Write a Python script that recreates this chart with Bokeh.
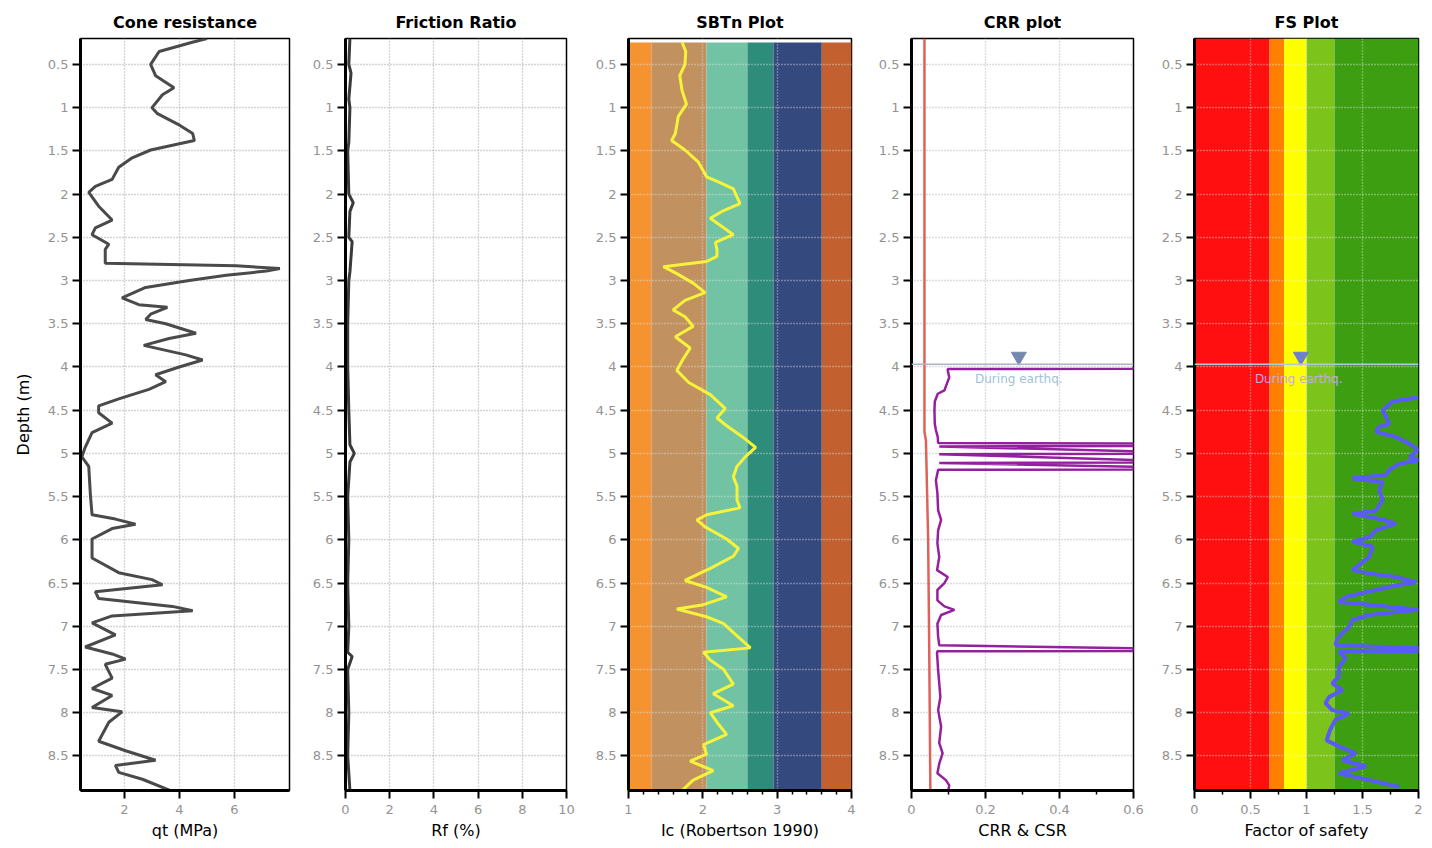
from bokeh.plotting import figure
from bokeh.layouts import row
from bokeh.models import Range1d, FixedTicker, NumeralTickFormatter, Label, Span
from bokeh.embed import file_html
from bokeh.resources import INLINE

# ---------------- data ----------------
qt_depth = [0.20,0.24,0.35,0.50,0.63,0.77,0.85,1.00,1.07,1.19,1.30,1.38,1.49,1.58,1.69,1.83,1.91,1.98,2.14,2.30,
            2.39,2.47,2.58,2.64,2.80,2.83,2.86,2.89,2.94,3.00,3.08,3.20,3.28,3.31,3.39,3.45,3.50,3.61,3.67,3.75,
            3.86,3.92,4.00,4.09,4.17,4.26,4.37,4.45,4.53,4.65,4.76,4.93,5.04,5.15,5.48,5.71,5.76,5.82,5.87,5.99,
            6.21,6.38,6.46,6.52,6.60,6.68,6.77,6.82,6.88,6.96,7.10,7.24,7.32,7.38,7.44,7.60,7.72,7.80,7.94,7.99,
            8.11,8.33,8.44,8.55,8.61,8.69,8.77,8.91]
qt_mpa = [5.0,4.5,3.26,2.95,3.13,3.8,3.38,3.0,3.2,3.93,4.48,4.54,2.95,2.28,1.79,1.55,0.94,0.7,1.06,1.55,
          0.94,0.82,1.43,1.3,1.3,6.06,7.65,7.16,5.7,4.35,2.77,1.91,2.52,3.56,2.95,2.77,3.5,4.6,3.62,2.7,
          4.23,4.84,3.99,3.13,3.5,2.89,1.79,1.06,1.06,1.55,0.82,0.57,0.45,0.7,0.76,0.82,1.67,2.4,1.55,0.82,
          0.82,1.79,3.0,3.38,0.94,1.06,3.74,4.48,1.55,0.82,1.67,0.57,1.55,2.04,1.3,1.55,0.82,1.55,0.82,1.91,
          1.43,1.06,2.04,3.13,1.67,1.79,2.65,3.74]

rf_depth = [0.2,0.5,0.6,0.9,1.0,1.4,1.5,2.0,2.1,2.2,2.5,2.55,2.9,3.0,3.5,4.0,4.5,4.9,5.0,5.1,
            5.5,6.0,6.5,7.0,7.3,7.35,7.5,8.0,8.5,8.9]
rf_pct = [0.2,0.15,0.25,0.15,0.2,0.15,0.1,0.15,0.35,0.2,0.15,0.3,0.2,0.15,0.1,0.1,0.15,0.2,0.4,0.2,
          0.1,0.15,0.1,0.15,0.1,0.3,0.1,0.15,0.1,0.2]

ic_depth = [0.24,0.35,0.50,0.63,0.80,0.96,1.10,1.30,1.38,1.49,1.63,1.80,1.86,1.94,2.11,2.19,2.28,2.39,2.47,2.56,
            2.64,2.72,2.78,2.84,2.92,3.03,3.14,3.23,3.34,3.42,3.53,3.65,3.78,3.90,4.04,4.18,4.32,4.48,4.59,4.68,
            4.82,4.93,5.04,5.15,5.27,5.38,5.54,5.63,5.71,5.77,5.85,5.99,6.10,6.19,6.33,6.47,6.55,6.66,6.75,6.80,
            6.89,6.97,7.11,7.25,7.30,7.39,7.50,7.67,7.78,7.92,8.00,8.11,8.25,8.37,8.48,8.56,8.67,8.78,8.90]
ic_val = [1.72,1.77,1.76,1.69,1.72,1.78,1.67,1.63,1.58,1.76,1.94,2.05,2.21,2.41,2.50,2.28,2.10,2.28,2.41,2.17,
          2.19,2.19,2.05,1.47,1.65,1.87,2.03,1.76,1.60,1.76,1.87,1.63,1.83,1.74,1.65,1.81,2.10,2.30,2.19,2.32,
          2.55,2.71,2.57,2.46,2.41,2.46,2.46,2.50,2.05,1.92,2.03,2.32,2.48,2.41,2.10,1.76,2.05,2.32,2.01,1.65,
          2.05,2.28,2.46,2.64,2.01,2.10,2.28,2.41,2.14,2.41,2.10,2.19,2.32,2.01,2.05,1.83,2.14,1.87,1.72]

sbt_edges = [1.0, 1.31, 2.05, 2.6, 2.95, 3.6, 4.0]
sbt_colors = ["#F59331", "#C1915F", "#72C3A4", "#2E8C7A", "#34497E", "#C2612F"]

csr_depth = [0.2, 4.0, 4.75, 4.85, 6.0, 7.3, 8.9]
csr_val = [0.035, 0.035, 0.035, 0.039, 0.045, 0.048, 0.051]

crr_depth = [4.00,4.02,4.025,4.04,4.12,4.19,4.27,4.31,4.40,4.50,4.66,4.73,4.81,4.88,
             4.885,4.915,4.92,4.975,5.005,5.01,5.075,5.105,5.11,5.155,5.185,5.19,
             5.31,5.46,5.66,5.77,5.89,6.04,6.20,6.35,6.43,6.50,6.58,6.70,6.77,6.81,6.87,6.97,7.12,7.22,
             7.255,7.285,7.29,7.31,7.51,7.66,7.82,7.97,8.16,8.35,8.47,8.59,8.70,8.78,8.84,8.89]
crr_val = [0.6,0.6,0.098,0.098,0.102,0.096,0.089,0.071,0.063,0.062,0.063,0.066,0.071,0.072,
           0.6,0.6,0.075,0.6,0.6,0.075,0.6,0.6,0.075,0.6,0.6,0.072,
           0.066,0.07,0.072,0.08,0.072,0.07,0.075,0.069,0.098,0.089,0.07,0.07,0.089,0.116,0.08,0.07,0.072,0.075,
           0.6,0.6,0.07,0.069,0.072,0.075,0.078,0.072,0.08,0.075,0.084,0.075,0.07,0.093,0.102,0.1]

fs_depth = [4.35,4.40,4.50,4.66,4.69,4.75,4.81,4.89,4.96,5.04,5.08,5.12,5.19,5.25,5.29,5.33,5.43,5.54,5.66,5.70,
            5.75,5.81,5.89,5.97,6.02,6.08,6.20,6.29,6.35,6.39,6.43,6.49,6.52,6.58,6.66,6.72,6.76,6.81,6.87,6.93,
            7.01,7.08,7.16,7.22,7.255,7.285,7.29,7.37,7.47,7.58,7.66,7.74,7.82,7.89,7.97,8.01,8.08,8.20,8.32,8.39,
            8.47,8.55,8.62,8.70,8.78,8.86]
fs_val = [2.0,1.77,1.68,1.74,1.65,1.62,1.80,1.92,2.0,1.92,2.0,1.83,1.74,1.71,1.41,1.68,1.65,1.68,1.62,1.41,
          1.62,1.80,1.62,1.56,1.41,1.59,1.56,1.47,1.41,1.56,1.80,1.98,1.83,1.62,1.35,1.29,1.62,2.0,1.56,1.41,
          1.38,1.32,1.27,1.26,2.0,2.0,1.29,1.35,1.29,1.29,1.23,1.32,1.2,1.17,1.23,1.38,1.26,1.21,1.18,1.29,
          1.44,1.32,1.53,1.29,1.56,1.83]

fs_edges = [0.0, 0.67, 0.8, 1.0, 1.25, 2.0]
fs_colors = ["#FF0F0F", "#FF8000", "#FFFF00", "#7CC41C", "#3E9E12"]

gwt_depth = 3.97
marker_depth = 3.88
label_depth = 4.14

depth_ticks = [0.5, 1, 1.5, 2, 2.5, 3, 3.5, 4, 4.5, 5, 5.5, 6, 6.5, 7, 7.5, 8, 8.5]

FONT = "DejaVu Sans"
Y_TOP, Y_BOT = 0.2, 8.9


def make_panel(title, xr, xticks, xminor, xlabel, left, right, fw, ylabel=None,
               grid_color="#a8a8a8", grid_alpha=1.0):
    p = figure(frame_width=fw, frame_height=752,
               x_range=Range1d(*xr), y_range=Range1d(Y_BOT, Y_TOP),
               output_backend="svg", toolbar_location=None,
               min_border_left=left, min_border_right=right,
               min_border_top=38, min_border_bottom=50, title=title)
    p.title.align = "center"
    p.title.text_font = FONT
    p.title.text_font_size = "16px"
    p.title.text_font_style = "bold"
    p.title.text_color = "black"
    p.title.standoff = 13
    p.outline_line_color = "black"
    p.outline_line_width = 1.5
    p.outline_line_alpha = 1.0
    p.background_fill_color = "white"
    p.border_fill_color = "white"

    p.xaxis.ticker = FixedTicker(ticks=xticks, minor_ticks=xminor)
    p.yaxis.ticker = FixedTicker(ticks=depth_ticks)
    p.yaxis.formatter = NumeralTickFormatter(format="0.[0]")
    p.xaxis.formatter = NumeralTickFormatter(format="0.[0]")
    for ax in (p.xaxis, p.yaxis):
        ax.axis_line_width = 3
        ax.axis_line_color = "black"
        ax.major_tick_line_color = "black"
        ax.major_tick_line_width = 2
        ax.major_tick_out = 8
        ax.major_tick_in = 0
        ax.minor_tick_line_color = "black"
        ax.minor_tick_line_width = 1.5
        ax.minor_tick_out = 4
        ax.minor_tick_in = 0
        ax.major_label_text_font = FONT
        ax.major_label_text_font_size = "13px"
        ax.major_label_text_color = "#939393"
        ax.axis_label_text_font = FONT
        ax.axis_label_text_font_size = "16px"
        ax.axis_label_text_font_style = "normal"
        ax.axis_label_text_color = "black"
    p.xaxis.axis_label = xlabel
    p.xaxis.axis_label_standoff = 4
    p.xaxis.major_label_standoff = 6
    p.yaxis.major_label_standoff = 4
    p.yaxis.minor_tick_line_color = None
    if ylabel:
        p.yaxis.axis_label = ylabel
        p.yaxis.axis_label_standoff = 12
    for g in (p.xgrid, p.ygrid):
        g.grid_line_color = grid_color
        g.grid_line_alpha = grid_alpha
        g.grid_line_dash = "1 2"
        g.grid_line_width = 1.3
    return p


# Panel 1: Cone resistance
p1 = make_panel("Cone resistance", (0.4, 8.0), [2, 4, 6], [], "qt (MPa)", 80, 11, 209,
                ylabel="Depth (m)")
p1.line(qt_mpa, qt_depth, line_color="#4a4a4a", line_width=3)

# Panel 2: Friction ratio
p2 = make_panel("Friction Ratio", (0, 10), [0, 2, 4, 6, 8, 10], [], "Rf (%)", 45, 19, 221)
p2.line(rf_pct, rf_depth, line_color="#3a3a3a", line_width=3)

# Panel 3: SBTn
p3 = make_panel("SBTn Plot", (1, 4), [1, 2, 3, 4],
                [1.2, 1.4, 1.6, 1.8, 2.2, 2.4, 2.6, 2.8, 3.2, 3.4, 3.6, 3.8],
                "Ic (Robertson 1990)", 43, 19, 223, grid_color="#e6e6e6", grid_alpha=0.75)
p3.quad(left=sbt_edges[:-1], right=sbt_edges[1:], top=[0.245] * len(sbt_colors),
        bottom=[Y_BOT] * len(sbt_colors), fill_color=sbt_colors, line_color=None, level="image")
p3.line(ic_val, ic_depth, line_color="#F6F33A", line_width=3)

# Panel 4: CRR
p4 = make_panel("CRR plot", (0, 0.6), [0, 0.2, 0.4, 0.6], [0.1, 0.3, 0.5], "CRR & CSR",
                41, 19, 222, grid_color="#b8b8b8")
p4.add_layout(Span(location=gwt_depth, dimension="width", line_color="#a9b4c6", line_width=1.5))
p4.line(csr_val, csr_depth, line_color="#E0605A", line_width=2.5)
p4.line(crr_val, crr_depth, line_color="#9420A0", line_width=2.5)
p4.scatter([0.29], [marker_depth], marker="inverted_triangle", size=15,
           fill_color="#7488AE", line_color="#7488AE")
p4.add_layout(Label(x=0.29, y=label_depth, text="During earthq.", text_align="center",
                    text_baseline="middle", text_font=FONT, text_font_size="12px",
                    text_color="#9FC2DA"))

# Panel 5: FS
p5 = make_panel("FS Plot", (0, 2), [0, 0.5, 1, 1.5, 2], [0.25, 0.75, 1.25, 1.75],
                "Factor of safety", 42, 8, 224, grid_color="#f2f2f2", grid_alpha=0.7)
p5.quad(left=fs_edges[:-1], right=fs_edges[1:], top=[Y_TOP] * len(fs_colors),
        bottom=[Y_BOT] * len(fs_colors), fill_color=fs_colors, line_color=None, level="image")
p5.add_layout(Span(location=gwt_depth, dimension="width", line_color="#b4c6de", line_width=1.5))
p5.line(fs_val, fs_depth, line_color="#5A5AF5", line_width=4)
p5.scatter([0.95], [marker_depth], marker="inverted_triangle", size=15,
           fill_color="#6C80CE", line_color="#6C80CE")
p5.add_layout(Label(x=0.93, y=label_depth, text="During earthq.", text_align="center",
                    text_baseline="middle", text_font=FONT, text_font_size="12px",
                    text_color="#C6A6EE"))

layout = row(p1, p2, p3, p4, p5)
open("out.html", "w").write(file_html(layout, INLINE))
